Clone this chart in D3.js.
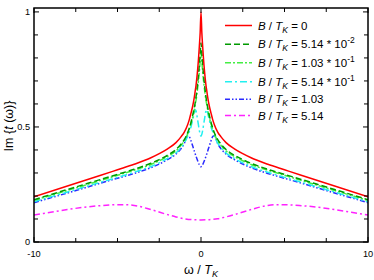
<!DOCTYPE html>
<html><head><meta charset="utf-8">
<script src="https://cdn.jsdelivr.net/npm/d3@7"></script>
<style>body{margin:0;background:#fff}svg{display:block;font-family:"Liberation Sans",Arial,sans-serif}</style>
</head><body><div id="chart"></div>
<script>
const omega = [-10,-8,-6,-5,-4,-3,-2.5,-2,-1.5,-1.2,-1,-0.8,-0.7,-0.6,-0.5,-0.4,-0.35,-0.3,-0.2,-0.1,-0.05,0,
               0.05,0.1,0.2,0.3,0.35,0.4,0.5,0.6,0.7,0.8,1,1.2,1.5,2,2.5,3,4,5,6,8,10];
const imB0     = [0.197,0.243,0.290,0.314,0.338,0.366,0.384,0.405,0.432,0.457,0.478,0.51,0.532,0.56,0.59,0.63,0.655,0.68,0.75,0.85,0.91,1.0,
                  0.91,0.85,0.75,0.68,0.655,0.63,0.59,0.56,0.532,0.51,0.478,0.457,0.432,0.405,0.384,0.366,0.338,0.314,0.290,0.243,0.197];
const imB514m2 = [0.184,0.228,0.272,0.294,0.316,0.342,0.358,0.377,0.402,0.425,0.445,0.475,0.495,0.52,0.55,0.585,0.605,0.63,0.69,0.77,0.82,0.865,
                  0.82,0.77,0.69,0.63,0.605,0.585,0.55,0.52,0.495,0.475,0.445,0.425,0.402,0.377,0.358,0.342,0.316,0.294,0.272,0.228,0.184];
const imB103m1 = [0.181,0.224,0.268,0.290,0.312,0.337,0.353,0.372,0.396,0.420,0.440,0.470,0.490,0.515,0.54,0.575,0.595,0.615,0.67,0.74,0.785,0.82,
                  0.785,0.74,0.67,0.615,0.595,0.575,0.54,0.515,0.49,0.47,0.44,0.42,0.396,0.372,0.353,0.337,0.312,0.290,0.268,0.224,0.181];
const imB514m1 = [0.175,0.217,0.260,0.281,0.303,0.328,0.344,0.363,0.387,0.410,0.430,0.460,0.480,0.50,0.53,0.56,0.575,0.57,0.53,0.485,0.468,0.46,
                  0.468,0.485,0.53,0.57,0.575,0.56,0.53,0.50,0.48,0.46,0.43,0.41,0.387,0.363,0.344,0.328,0.303,0.281,0.260,0.217,0.175];
const imB103   = [0.171,0.213,0.256,0.277,0.298,0.323,0.339,0.358,0.382,0.405,0.428,0.462,0.458,0.44,0.418,0.395,0.384,0.373,0.353,0.336,0.330,0.327,
                  0.330,0.336,0.353,0.373,0.384,0.395,0.418,0.44,0.458,0.462,0.428,0.405,0.382,0.358,0.339,0.323,0.298,0.277,0.256,0.213,0.171];
const omegaM = [-10,-9,-8,-7,-6,-5,-4.5,-4,-3,-2,-1.5,-1,-0.5,0,0.5,1,1.5,2,3,4,4.5,5,6,7,8,9,10];
const imB514   = [0.117,0.129,0.141,0.151,0.158,0.162,0.162,0.159,0.141,0.119,0.109,0.101,0.097,0.096,0.097,0.101,0.109,0.119,0.141,0.159,0.162,0.162,0.158,0.151,0.141,0.129,0.117];

const seriesNames = ["0","5.14 * 10","1.03 * 10","5.14 * 10","1.03","5.14"];
const seriesExp   = [null,"-2","-1","-1",null,null];
const colors = ["#ff0000","#009a00","#44ee44","#22f0f0","#2a2aff","#ff22ff"];
const dashes = [null,"6,3","6,2,2,2","7,3,2,3","5,2,1.5,2,1.5,2","6,3,2,3"];
const xTicksMajor = [-10,0,10];
const yTicksMajor = [0,0.5,1];

const W=374,H=280;
const svg=d3.select("#chart").append("svg").attr("width",W).attr("height",H);
const x=d3.scaleLinear().domain([-10,10]).range([34,368]);
const y=d3.scaleLinear().domain([0,1.017]).range([242,8]);

const clip=svg.append("clipPath").attr("id","c").append("rect")
  .attr("x",34).attr("y",8).attr("width",334).attr("height",234);

const data=[
  {xs:omega,ys:imB0},{xs:omega,ys:imB514m2},{xs:omega,ys:imB103m1},
  {xs:omega,ys:imB514m1},{xs:omega,ys:imB103},{xs:omegaM,ys:imB514}];

const line=d3.line().x(d=>x(d[0])).y(d=>y(d[1])).curve(d3.curveMonotoneX);
const g=svg.append("g").attr("clip-path","url(#c)");
data.slice().reverse().forEach((s,ri)=>{
  const i=data.length-1-ri;
  g.append("path").attr("d",line(s.xs.map((v,k)=>[v,s.ys[k]])))
   .attr("fill","none").attr("stroke",colors[i]).attr("stroke-width",1.5)
   .attr("stroke-dasharray",dashes[i]);
});

svg.append("rect").attr("x",34).attr("y",8).attr("width",334).attr("height",234)
  .attr("fill","none").attr("stroke","#000").attr("stroke-width",1.5);

const xt=d3.range(-10,10.01,2.5);
xt.forEach(t=>{
  const maj=xTicksMajor.includes(t);
  const L=maj?5:4;
  svg.append("line").attr("x1",x(t)).attr("x2",x(t)).attr("y1",242).attr("y2",242-L).attr("stroke","#000").attr("stroke-width",1);
  svg.append("line").attr("x1",x(t)).attr("x2",x(t)).attr("y1",8).attr("y2",8+L).attr("stroke","#000").attr("stroke-width",1);
});
xTicksMajor.forEach(t=>{
  svg.append("text").attr("x",x(t)).attr("y",257).attr("text-anchor","middle")
    .attr("font-size",9.2).text(t);
});
const yt=d3.range(0,10.5,1).map(v=>v/10);
yt.forEach(t=>{
  const maj=yTicksMajor.some(m=>Math.abs(m-t)<1e-9);
  const L=maj?5:4;
  svg.append("line").attr("x1",34).attr("x2",34+L).attr("y1",y(t)).attr("y2",y(t)).attr("stroke","#000").attr("stroke-width",1);
  svg.append("line").attr("x1",368).attr("x2",368-L).attr("y1",y(t)).attr("y2",y(t)).attr("stroke","#000").attr("stroke-width",1);
});
yTicksMajor.forEach(t=>{
  svg.append("text").attr("x",30).attr("y",y(t)+3.3).attr("text-anchor","end")
    .attr("font-size",9.2).text(t);
});

const xl=svg.append("text").attr("x",201).attr("y",274).attr("text-anchor","middle").attr("font-size",12.5);
xl.append("tspan").text("ω / ");
xl.append("tspan").attr("font-style","italic").text("T");
xl.append("tspan").attr("font-style","italic").attr("font-size",9).attr("dy",3).text("K");

const yl=svg.append("text").attr("transform","translate(13,126) rotate(-90)").attr("text-anchor","middle").attr("font-size",12.5);
yl.append("tspan").text("Im {");
yl.append("tspan").attr("font-style","italic").text("t");
yl.append("tspan").text(" (ω)}");

const rowsY=[25.5,44.3,62.7,81.7,99.3,115.5];
seriesNames.forEach((nm,i)=>{
  const ly=rowsY[i];
  svg.append("line").attr("x1",225).attr("x2",252).attr("y1",ly).attr("y2",ly)
    .attr("stroke",colors[i]).attr("stroke-width",1.5).attr("stroke-dasharray",dashes[i]);
  const t=svg.append("text").attr("x",258).attr("y",ly+4).attr("font-size",11.5);
  t.append("tspan").attr("font-style","italic").text("B");
  t.append("tspan").text(" / ");
  t.append("tspan").attr("font-style","italic").text("T");
  t.append("tspan").attr("font-style","italic").attr("font-size",8.5).attr("dy",3).text("K");
  t.append("tspan").attr("dy",-3).text("  =  "+nm);
  if(seriesExp[i]) t.append("tspan").attr("font-size",8.5).attr("dy",-5).text(seriesExp[i]);
});
</script></body></html>
